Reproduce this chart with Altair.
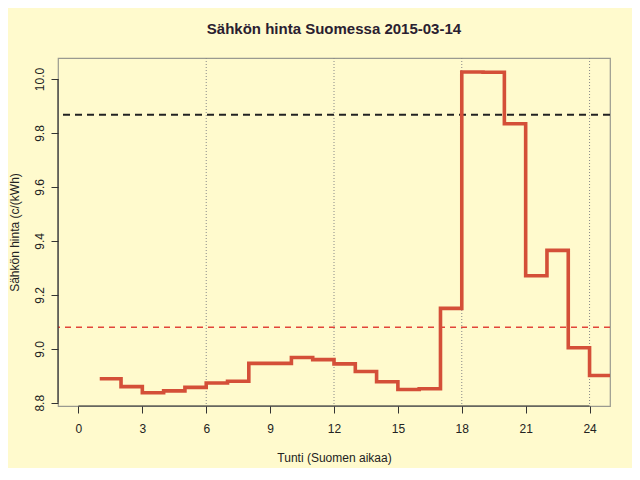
import altair as alt
import pandas as pd

# Hour of day (step starts) and price c/kWh; last point repeats hour 24 to close the step
hours = list(range(1, 26))
prices = [8.889, 8.860, 8.837, 8.844, 8.857, 8.873, 8.880, 8.946, 8.946, 8.968,
          8.960, 8.944, 8.916, 8.878, 8.849, 8.852, 9.150, 10.026, 10.025, 9.834,
          9.271, 9.365, 9.004, 8.901, 8.901]
x_ticks = [0, 3, 6, 9, 12, 15, 18, 21, 24]
y_ticks = [8.8, 9.0, 9.2, 9.4, 9.6, 9.8, 10.0]
grid_hours = [6, 12, 18, 24]
ref_levels = [9.868, 9.080]
ref_names = ["high", "low"]

X_DOMAIN = [-0.96, 24.96]
Y_DOMAIN = [8.788, 10.078]
FONT = "Liberation Sans"

df = pd.DataFrame({"hour": hours, "price": prices})
grid_df = pd.DataFrame({"hour": grid_hours})
ref_df = pd.DataFrame({"level": ref_levels, "name": ref_names})

xs = alt.Scale(domain=X_DOMAIN, nice=False, zero=False)
ys = alt.Scale(domain=Y_DOMAIN, nice=False, zero=False)

x_axis = alt.Axis(values=x_ticks, title="Tunti (Suomen aikaa)", grid=False, domain=False,
                  tickSize=7, tickColor="#333333", labelPadding=10, labelFontSize=12,
                  labelFont=FONT, labelColor="#222222", titleFont=FONT, titleFontSize=12,
                  titleFontWeight="normal", titleColor="#222222", titleY=51,
                  titleBaseline="middle")
y_axis = alt.Axis(values=y_ticks, format=".1f", title="Sähkön hinta (c/(kWh)", grid=False,
                  domain=False, tickSize=7, tickColor="#333333", labelAngle=270,
                  labelAlign="center", labelBaseline="bottom", labelPadding=5,
                  labelFontSize=12, labelFont=FONT, labelColor="#222222", titleFont=FONT,
                  titleFontSize=12, titleFontWeight="normal", titleColor="#222222",
                  titleAngle=270, titleX=-44, titleY=174, titleAlign="center",
                  titleBaseline="middle")

vgrid = alt.Chart(grid_df).mark_rule(color="#888888", strokeWidth=1, strokeDash=[1, 2]).encode(
    x=alt.X("hour:Q", scale=xs, axis=x_axis)
)

refs = alt.Chart(ref_df).mark_rule().encode(
    y=alt.Y("level:Q", scale=ys, axis=y_axis),
    color=alt.Color("name:N", scale=alt.Scale(domain=ref_names, range=["#222222", "#e2453a"]),
                    legend=None),
    strokeDash=alt.StrokeDash("name:N", scale=alt.Scale(domain=ref_names, range=[[7, 5], [6, 5]]),
                              legend=None),
    strokeWidth=alt.StrokeWidth("name:N", scale=alt.Scale(domain=ref_names, range=[2, 1.4]),
                                legend=None),
)

# dark axis lines spanning first to last tick (R style)
xline = alt.Chart(pd.DataFrame({"a": [x_ticks[0]], "b": [x_ticks[-1]], "y": [Y_DOMAIN[0]]})).mark_rule(
    color="#333333", strokeWidth=1.2).encode(
    x=alt.X("a:Q", scale=xs, axis=x_axis), x2="b:Q", y=alt.Y("y:Q", scale=ys, axis=y_axis))
yline = alt.Chart(pd.DataFrame({"a": [y_ticks[0]], "b": [y_ticks[-1]], "x": [X_DOMAIN[0]]})).mark_rule(
    color="#333333", strokeWidth=1.2).encode(
    y=alt.Y("a:Q", scale=ys, axis=y_axis), y2="b:Q", x=alt.X("x:Q", scale=xs, axis=x_axis))

line = alt.Chart(df).mark_line(interpolate="step-after", color="#d44f38", strokeWidth=3.6,
                               clip=True, strokeJoin="miter", strokeCap="butt").encode(
    x=alt.X("hour:Q", scale=xs, axis=x_axis),
    y=alt.Y("price:Q", scale=ys, axis=y_axis),
)

chart = alt.layer(vgrid, refs, line, xline, yline).properties(
    width=552, height=348,
    title=alt.TitleParams("Sähkön hinta Suomessa 2015-03-14", font=FONT, fontSize=15,
                          fontWeight="bold", color="#2a2030", anchor="middle",
                          baseline="alphabetic", offset=9),
    background="#fffacd",
    padding={"left": 50, "top": 50, "right": 22, "bottom": 62},
    autosize=alt.AutoSizeParams(type="none"),
).configure_view(stroke="#9a9a90", strokeWidth=1.2)

chart.save("out.html", embed_options={"renderer": "svg", "actions": False})
